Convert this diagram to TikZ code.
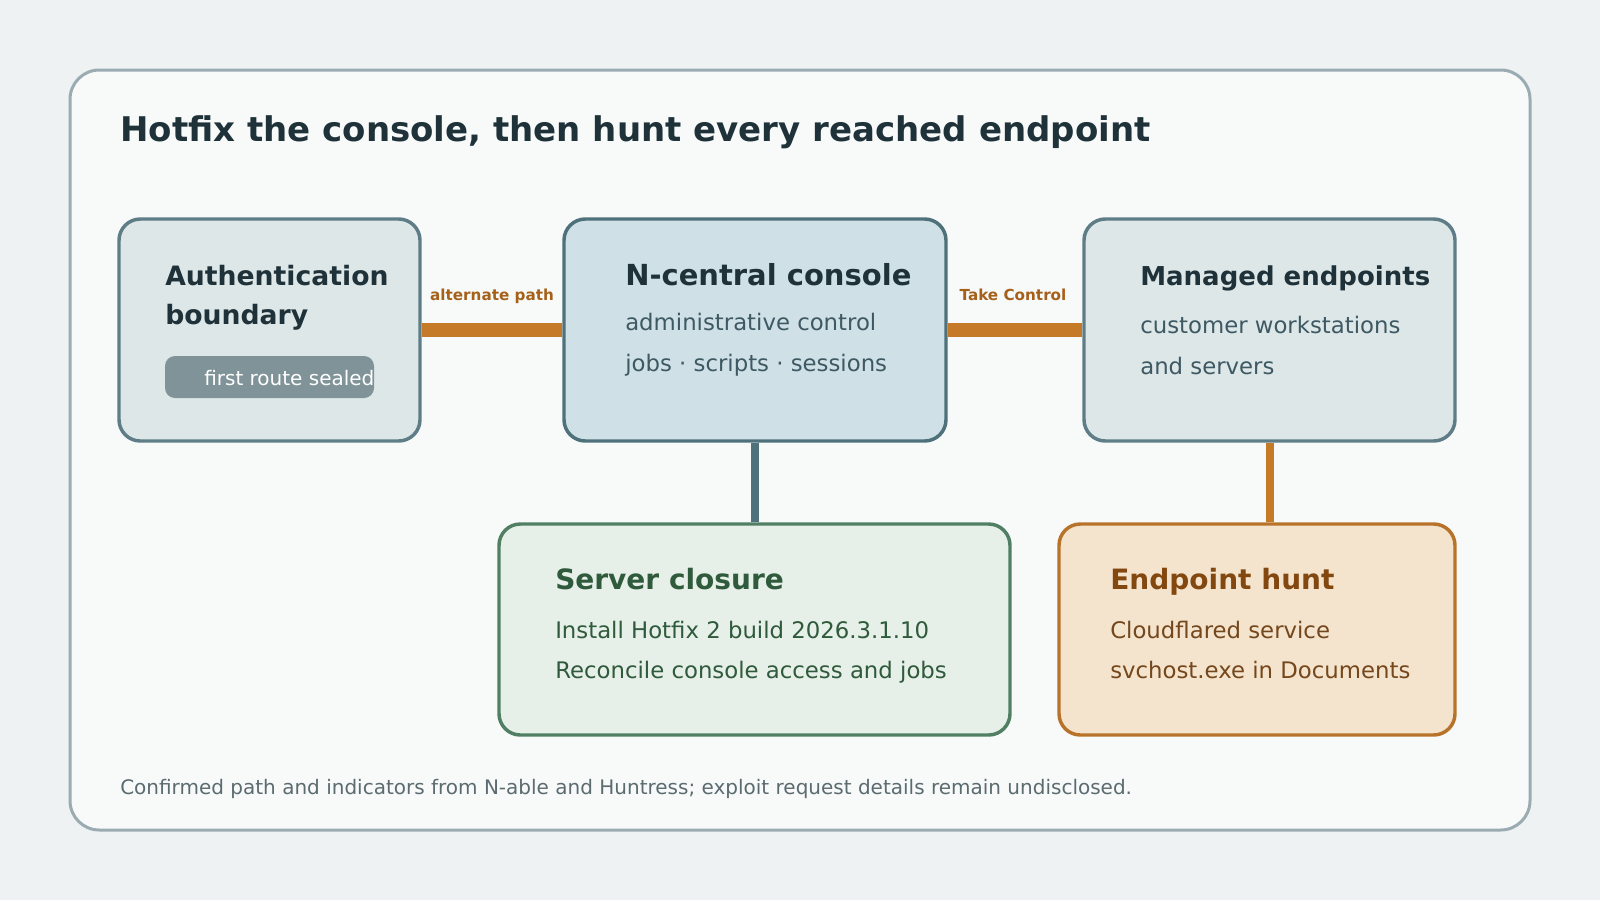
\documentclass[tikz,border=0pt]{standalone}
\usepackage{fontspec}
\setmainfont{DejaVu Sans}
\usepackage{tikz}

\definecolor{pagebg}{HTML}{EEF2F3}
\definecolor{cardbg}{HTML}{F8FAFA}
\definecolor{cardline}{HTML}{9AABB2}
\definecolor{ink}{HTML}{1F3239}
\definecolor{slate}{HTML}{3E5963}
\definecolor{greyfill}{HTML}{DDE7E8}
\definecolor{greyline}{HTML}{5F7D86}
\definecolor{bluefill}{HTML}{CFE1E6}
\definecolor{blueline}{HTML}{4E717B}
\definecolor{pill}{HTML}{7F9398}
\definecolor{greenfill}{HTML}{E6EFE8}
\definecolor{greenline}{HTML}{517F63}
\definecolor{greenink}{HTML}{2F5A3B}
\definecolor{tanfill}{HTML}{F4E4CD}
\definecolor{tanline}{HTML}{B8732A}
\definecolor{brownink}{HTML}{83480F}
\definecolor{brownbody}{HTML}{74471C}
\definecolor{amber}{HTML}{C47A26}
\definecolor{amberink}{HTML}{A5601A}
\definecolor{footink}{HTML}{5B6B70}

\begin{document}
\begin{tikzpicture}[x=0.75pt, y=-0.75pt,
    box/.style={line width=2.6pt, rounded corners=16pt, minimum height=166.5pt, inner sep=0pt},
    txt/.style={anchor=base west, inner sep=0pt},
    head/.style={txt, font=\bfseries\fontsize{20}{24}\selectfont, text=ink},
    body/.style={txt, font=\fontsize{17.1}{20}\selectfont, text=slate},
    bar/.style={amber, line width=11pt},
    elabel/.style={anchor=base, yshift=22.5pt, inner sep=0pt, text=amberink, font=\bfseries\fontsize{11.4}{13}\selectfont}]
    % Background and card
    \fill[pagebg] (0,0) rectangle (1600,900);
    \useasboundingbox (0,0) rectangle (1600,900);
    \draw[cardline, fill=cardbg, line width=2.25pt, rounded corners=22pt] (70,70) rectangle (1530,830);

    % Title
    \node[txt, font=\bfseries\fontsize{25.5}{29}\selectfont, text=ink] (title) at (120,141) {Hotfix the console, then hunt every reached endpoint};

    % Top row
    \node[box, fill=greyfill, draw=greyline, minimum width=225.75pt] (auth) at (269.5,330) {};
    \node[box, fill=bluefill, draw=blueline, minimum width=286.5pt] (console) at (755,330) {};
    \node[box, fill=greyfill, draw=greyline, minimum width=278.25pt] (endpoints) at (1269.5,330) {};

    % Bottom row
    \node[box, fill=greenfill, draw=greenline, minimum width=383.25pt, minimum height=158.25pt] (closure) at (754.5,629.5) {};
    \node[box, fill=tanfill, draw=tanline, minimum width=297pt, minimum height=158.25pt] (hunt) at (1257,629.5) {};

    % Links
    \draw[bar] (auth) -- node[elabel] (altlabel) {alternate path} (console);
    \draw[bar] (console) -- node[elabel, xshift=-1.5pt] (tclabel) {Take Control} (endpoints);
    \draw[blueline, line width=6pt] (console.south) -- (console.south |- closure.north);
    \draw[amber, line width=6pt] (endpoints.south) -- (endpoints.south |- hunt.north);

    % Authentication boundary
    \node[head] (authA) at (165,285) {Authentication};
    \node[head] (authB) at (165,324) {boundary};
    \node[fill=pill, rounded corners=7.5pt, minimum width=156.75pt, minimum height=31.5pt, inner sep=0pt] (sealed) at (269.5,377) {};
    \node[txt, text=white, font=\fontsize{15}{18}\selectfont] (sealedtxt) at (204,385) {first route sealed};

    % N-central console
    \node[head, font=\bfseries\fontsize{21.75}{26}\selectfont] (consoleA) at (625,285) {N-central console};
    \node[body] (consoleB) at (625,330) {administrative control};
    \node[body] (consoleC) at (625,371) {jobs · scripts · sessions};

    % Managed endpoints
    \node[head, font=\bfseries\fontsize{19.5}{24}\selectfont] (endA) at (1140,285) {Managed endpoints};
    \node[body] (endB) at (1140,333) {customer workstations};
    \node[body] (endC) at (1140,374) {and servers};

    % Server closure
    \node[head, font=\bfseries\fontsize{21}{25}\selectfont, text=greenink] (closeA) at (555,589) {Server closure};
    \node[body, text=greenink] (closeB) at (555,638) {Install Hotfix 2 build 2026.3.1.10};
    \node[body, text=greenink] (closeC) at (555,678) {Reconcile console access and jobs};

    % Endpoint hunt
    \node[head, font=\bfseries\fontsize{21}{25}\selectfont, text=brownink] (huntA) at (1110,589) {Endpoint hunt};
    \node[body, text=brownbody] (huntB) at (1110,638) {Cloudflared service};
    \node[body, text=brownbody] (huntC) at (1110,678) {svchost.exe in Documents};

    % Footnote
    \node[txt, text=footink, font=\fontsize{15}{18}\selectfont] (foot) at (120,794) {Confirmed path and indicators from N-able and Huntress; exploit request details remain undisclosed.};
\end{tikzpicture}
\end{document}
